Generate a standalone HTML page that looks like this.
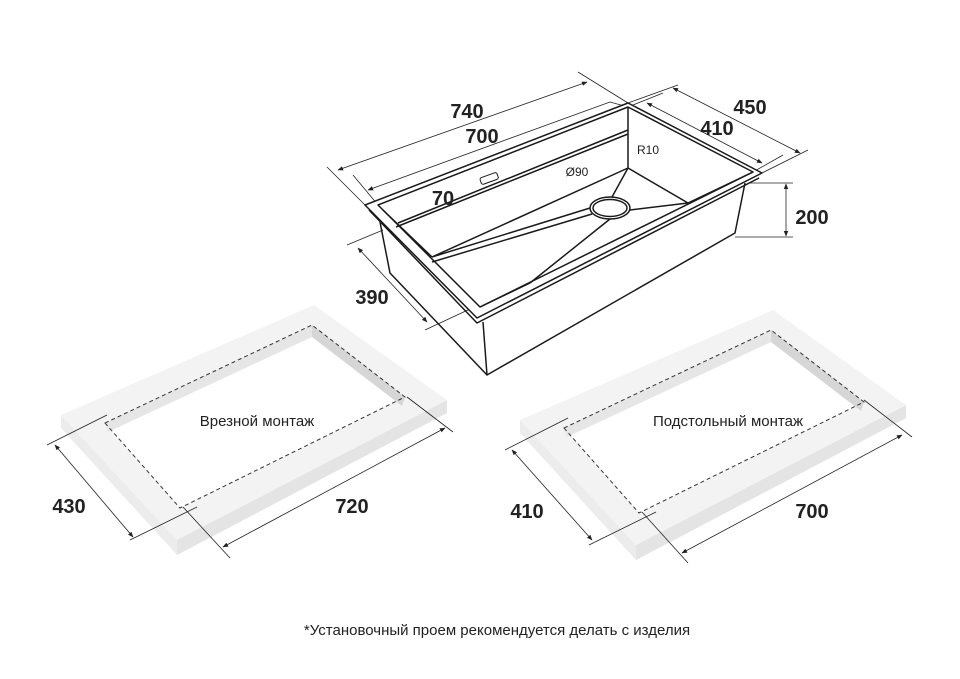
<!DOCTYPE html>
<html><head><meta charset="utf-8"><style>
html,body{margin:0;padding:0;background:#fff;width:960px;height:679px;overflow:hidden}
svg{display:block}
.d{font-family:"Liberation Sans",sans-serif;font-weight:bold;font-size:20px;fill:#222}
.l{font-family:"Liberation Sans","Noto Sans CJK JP",sans-serif;font-size:15px;fill:#222}
</style></head><body>
<svg width="960" height="679" viewBox="0 0 960 679" xmlns="http://www.w3.org/2000/svg">
<defs>
<marker id="a" viewBox="0 0 10 10" refX="9" refY="5" markerWidth="7" markerHeight="7" orient="auto-start-reverse"><path d="M0,1 L10,5 L0,9 z" fill="#222"/></marker>
<g id="frame">
<polygon points="61,415 177,540 177,555 61,428" fill="#ececec"/>
<polygon points="177,540 447,400 447,413 177,555" fill="#e4e4e4"/>
<polygon points="61,415 314,305 447,400 177,540" fill="#f3f3f3"/>
<polygon points="105,423 312,325 405,397 180,508" fill="#fff"/>
<polygon points="105,423 312,325 312,337 108,432" fill="#e6e6e6"/>
<polygon points="312,325 405,397 402,406 312,337" fill="#d6d6d6"/>
<polygon points="105,423 312,325 405,397 180,508" fill="none" stroke="#333" stroke-width="1" stroke-dasharray="4,3"/>
</g>
</defs>
<g fill="none" stroke="#222" stroke-width="0.8">
<line x1="327" y1="167" x2="365" y2="205"/><line x1="578" y1="72" x2="628" y2="103"/>
<line x1="338" y1="170" x2="587" y2="82" marker-start="url(#a)" marker-end="url(#a)"/>
<line x1="353" y1="175" x2="378" y2="205"/><line x1="610" y1="102" x2="628" y2="107"/>
<line x1="368" y1="190" x2="610" y2="102" marker-start="url(#a)"/>
<line x1="628" y1="103" x2="678" y2="85"/><line x1="762" y1="173" x2="808" y2="150"/>
<line x1="673" y1="88" x2="800" y2="153" marker-start="url(#a)" marker-end="url(#a)"/>
<line x1="628" y1="107" x2="663" y2="93"/><line x1="753" y1="172" x2="783" y2="155"/>
<line x1="647" y1="103" x2="762" y2="163" marker-start="url(#a)" marker-end="url(#a)"/>
<line x1="748" y1="183" x2="793" y2="183"/><line x1="735" y1="237" x2="793" y2="237"/>
<line x1="786" y1="184" x2="786" y2="236" marker-start="url(#a)" marker-end="url(#a)"/>
<line x1="347" y1="245" x2="383" y2="230"/><line x1="425" y1="330" x2="485" y2="302"/>
<line x1="358" y1="248" x2="427" y2="322" marker-start="url(#a)" marker-end="url(#a)"/>
<line x1="421" y1="190" x2="421" y2="215" marker-start="url(#a)" marker-end="url(#a)"/>
<polyline points="590,175 602,176 603,197"/><polyline points="663,153 648,153 628,170"/>
</g>
<g fill="none" stroke="#1a1a1a" stroke-width="1.5" stroke-linejoin="round">
<polygon points="365,205 628,103 762,173 477,318" fill="#fff"/>
<polyline points="369,210 477,323 759,178"/>
<polygon points="378,205 628,107 753,172 480,307"/>
<polyline points="380,222 390,273 487,375 735,233 745,183"/>
<line x1="483" y1="322" x2="487" y2="375"/>
<polyline points="398,223 628,130"/><polyline points="396,227 628,134"/>
<line x1="628" y1="107" x2="628" y2="168"/>
<line x1="628" y1="168" x2="432" y2="257"/>
<line x1="628" y1="168" x2="688" y2="203"/>
<line x1="688" y1="203" x2="753" y2="172"/>
<line x1="432" y1="257" x2="383" y2="210"/>
<line x1="530" y1="283" x2="480" y2="307"/>
<line x1="432" y1="257" x2="590" y2="208"/><line x1="432" y1="262" x2="592" y2="214"/>
<line x1="610" y1="219" x2="530" y2="283"/>
<line x1="628" y1="168" x2="612" y2="197"/>
<line x1="630" y1="210" x2="688" y2="203"/>
<ellipse cx="610" cy="208" rx="20" ry="11" fill="#fff"/>
<ellipse cx="610" cy="208" rx="17" ry="8.5"/>
<rect x="480" y="175" width="18" height="7" rx="2" transform="rotate(-20 489 178)" stroke-width="1"/>
</g>
<use href="#frame"/>
<use href="#frame" transform="translate(459,5)"/>
<g fill="none" stroke="#222" stroke-width="0.8">
<line x1="47" y1="445" x2="107" y2="415"/><line x1="130" y1="540" x2="197" y2="507"/>
<line x1="55" y1="445" x2="133" y2="537" marker-start="url(#a)" marker-end="url(#a)"/>
<line x1="183" y1="507" x2="230" y2="558"/><line x1="407" y1="397" x2="453" y2="432"/>
<line x1="223" y1="547" x2="445" y2="428" marker-start="url(#a)" marker-end="url(#a)"/>
<line x1="505" y1="450" x2="568" y2="418"/><line x1="589" y1="545" x2="656" y2="512"/>
<line x1="512" y1="450" x2="592" y2="540" marker-start="url(#a)" marker-end="url(#a)"/>
<line x1="642" y1="512" x2="688" y2="563"/><line x1="864" y1="400" x2="912" y2="437"/>
<line x1="682" y1="553" x2="902" y2="435" marker-start="url(#a)" marker-end="url(#a)"/>
</g>
<text class="d" x="467" y="118" text-anchor="middle">740</text>
<text class="d" x="482" y="143" text-anchor="middle">700</text>
<text class="d" x="750" y="114" text-anchor="middle">450</text>
<text class="d" x="717" y="135" text-anchor="middle">410</text>
<text class="d" x="443" y="205" text-anchor="middle">70</text>
<text class="d" x="812" y="224" text-anchor="middle">200</text>
<text class="d" x="372" y="304" text-anchor="middle">390</text>
<text x="648" y="154" text-anchor="middle" style="font-family:'Liberation Sans',sans-serif;font-size:12px;fill:#222">R10</text>
<text x="577" y="176" text-anchor="middle" style="font-family:'Liberation Sans',sans-serif;font-size:12px;fill:#222">Ø90</text>
<text class="d" x="69" y="513" text-anchor="middle">430</text>
<text class="d" x="352" y="513" text-anchor="middle">720</text>
<text class="d" x="527" y="518" text-anchor="middle">410</text>
<text class="d" x="812" y="518" text-anchor="middle">700</text>
<text class="l" x="257" y="426" text-anchor="middle">Врезной монтаж</text>
<text class="l" x="728" y="426" text-anchor="middle">Подстольный монтаж</text>
<text class="l" x="497" y="635" text-anchor="middle">*Установочный проем рекомендуется делать с изделия</text>
</svg>
</body></html>
